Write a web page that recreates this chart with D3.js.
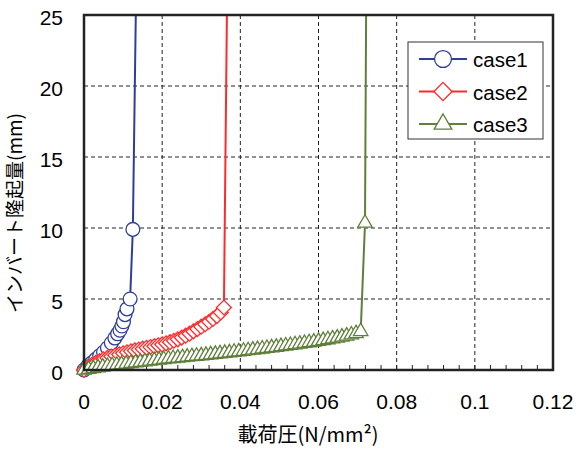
<!DOCTYPE html>
<html>
<head>
<meta charset="utf-8">
<script src="https://cdn.jsdelivr.net/npm/d3@7"></script>
<style>
  body { margin: 0; background: #fff; }
  text { font-family: "Liberation Sans", "Noto Sans CJK JP", sans-serif; fill: #000; }
</style>
</head>
<body>
<svg id="chart" width="577" height="452"></svg>
<script>
// data
var seriesNames = ["case1", "case2", "case3"];
var case1X = [0, 0.001, 0.002, 0.003, 0.004, 0.005, 0.006, 0.007, 0.0079, 0.0086, 0.0092, 0.0097, 0.0101, 0.0105, 0.011, 0.0118, 0.0125, 0.0133];
var case1Y = [0, 0.3, 0.5, 0.75, 1.0, 1.25, 1.55, 1.9, 2.25, 2.55, 2.8, 3.1, 3.4, 3.9, 4.3, 5.0, 9.9, 26];
var case2X = [0, 0.001, 0.002, 0.003, 0.004, 0.005, 0.006, 0.007, 0.008, 0.009, 0.010, 0.011, 0.012, 0.013, 0.014, 0.015, 0.016, 0.017, 0.018, 0.019, 0.020, 0.021, 0.022, 0.023, 0.024, 0.025, 0.026, 0.027, 0.028, 0.029, 0.030, 0.031, 0.032, 0.033, 0.034, 0.035, 0.0358, 0.0366];
var case2Y = [0, 0.2, 0.35, 0.5, 0.62, 0.75, 0.85, 0.95, 1.03, 1.1, 1.18, 1.25, 1.32, 1.38, 1.44, 1.5, 1.56, 1.62, 1.68, 1.74, 1.8, 1.88, 1.96, 2.06, 2.16, 2.28, 2.42, 2.56, 2.72, 2.88, 3.05, 3.22, 3.4, 3.6, 3.8, 4.05, 4.4, 26];
var case3X = [0, 0.0012, 0.0024, 0.0036, 0.0048, 0.006, 0.0072, 0.0084, 0.0096, 0.0108, 0.012, 0.0132, 0.0144, 0.0156, 0.0168, 0.018, 0.0192, 0.0204, 0.0216, 0.0228, 0.024, 0.0252, 0.0264, 0.0276, 0.0288, 0.03, 0.0312, 0.0324, 0.0336, 0.0348, 0.036, 0.0372, 0.0384, 0.0396, 0.0408, 0.042, 0.0432, 0.0444, 0.0456, 0.0468, 0.048, 0.0492, 0.0504, 0.0516, 0.0528, 0.054, 0.0552, 0.0564, 0.0576, 0.0588, 0.06, 0.0612, 0.0624, 0.0636, 0.0648, 0.066, 0.0672, 0.0684, 0.0696, 0.0708, 0.0719, 0.0722];
var case3Y = [0, 0.06, 0.11, 0.16, 0.21, 0.26, 0.31, 0.35, 0.39, 0.43, 0.47, 0.51, 0.55, 0.59, 0.63, 0.67, 0.71, 0.75, 0.79, 0.82, 0.85, 0.88, 0.92, 0.95, 0.98, 1.01, 1.04, 1.08, 1.11, 1.15, 1.18, 1.22, 1.26, 1.29, 1.33, 1.37, 1.41, 1.45, 1.49, 1.53, 1.57, 1.61, 1.66, 1.70, 1.74, 1.79, 1.83, 1.88, 1.93, 1.98, 2.03, 2.08, 2.14, 2.20, 2.26, 2.33, 2.40, 2.48, 2.57, 2.72, 10.35, 26];
var xTicks = [0, 0.02, 0.04, 0.06, 0.08, 0.1, 0.12];
var yTicks = [0, 5, 10, 15, 20, 25];
var xTitle = "載荷圧(N/mm²)";
var yTitle = "インバート隆起量(mm)";

var margin = {top: 15, right: 24, bottom: 82, left: 84};
var W = 577, H = 452;
var width = W - margin.left - margin.right,
    height = H - margin.top - margin.bottom;

var colors = ["#2f3f98", "#ff2a2a", "#5f7f3b"];

// marker shapes: circle, diamond (rotated square), triangle
function markerPath(i, k) {
  k = k || 1;
  if (i === 0) return d3.symbol().type(d3.symbolCircle).size(150 * k)();
  if (i === 1) return d3.symbol().type(d3.symbolSquare).size(110 * k)();
  return d3.symbol().type(d3.symbolTriangle).size(90 * k)();
}
function markerRot(i) { return i === 1 ? " rotate(45)" : ""; }

var series = [
  {name: seriesNames[0], xs: case1X, ys: case1Y},
  {name: seriesNames[1], xs: case2X, ys: case2Y},
  {name: seriesNames[2], xs: case3X, ys: case3Y}
].map(function(s) {
  s.points = s.xs.map(function(x, i) { return {x: x, y: s.ys[i]}; });
  return s;
});

var x = d3.scaleLinear().domain([0, 0.12]).range([0, width]);
var y = d3.scaleLinear().domain([0, 25]).range([height, 0]);

var svg = d3.select("#chart");
var chart = svg.append("g")
    .attr("transform", "translate(" + margin.left + "," + margin.top + ")");

svg.append("defs").append("clipPath").attr("id", "clip")
  .append("rect").attr("x", 0).attr("y", 0).attr("width", width).attr("height", height);

// grid
chart.append("g").selectAll("line")
  .data(xTicks.slice(1, -1)).enter().append("line")
  .attr("x1", function(d) { return x(d); }).attr("x2", function(d) { return x(d); })
  .attr("y1", 0).attr("y2", height)
  .attr("stroke", "#222").attr("stroke-width", 1).attr("stroke-dasharray", "4,3");
chart.append("g").selectAll("line")
  .data(yTicks.slice(1, -1)).enter().append("line")
  .attr("x1", 0).attr("x2", width)
  .attr("y1", function(d) { return y(d); }).attr("y2", function(d) { return y(d); })
  .attr("stroke", "#222").attr("stroke-width", 1).attr("stroke-dasharray", "4,3");

// minor ticks on x axis (inside)
var minor = d3.range(0, 0.1201, 0.004);
chart.append("g").selectAll("line")
  .data(minor).enter().append("line")
  .attr("x1", function(d) { return x(d); }).attr("x2", function(d) { return x(d); })
  .attr("y1", height).attr("y2", height - 5)
  .attr("stroke", "#222").attr("stroke-width", 1);

// each series: line then markers, later series on top
var line = d3.line().x(function(d) { return x(d.x); }).y(function(d) { return y(d.y); });
series.forEach(function(s, i) {
  chart.append("path").datum(s.points)
    .attr("clip-path", "url(#clip)")
    .attr("d", line)
    .attr("fill", "none")
    .attr("stroke", colors[i])
    .attr("stroke-width", 2);

  chart.append("g").selectAll("path")
    .data(s.points.filter(function(d) { return d.y <= 25; }))
    .enter().append("path")
    .attr("d", markerPath(i))
    .attr("transform", function(d) { return "translate(" + x(d.x) + "," + y(d.y) + ")" + markerRot(i); })
    .attr("fill", "#fff")
    .attr("stroke", colors[i])
    .attr("stroke-width", 1.3);
});

// frame
chart.append("rect")
  .attr("x", 0).attr("y", 0).attr("width", width).attr("height", height)
  .attr("fill", "none").attr("stroke", "#222").attr("stroke-width", 2.5);

// tick labels
chart.append("g").selectAll("text")
  .data(xTicks).enter().append("text")
  .attr("x", function(d) { return x(d); })
  .attr("y", height + 39)
  .attr("text-anchor", "middle")
  .style("font-size", "21px")
  .text(function(d) { return d; });
chart.append("g").selectAll("text")
  .data(yTicks).enter().append("text")
  .attr("x", -21)
  .attr("y", function(d) { return y(d) + 10; })
  .attr("text-anchor", "end")
  .style("font-size", "21px")
  .text(function(d) { return d; });

// axis titles
svg.append("text")
  .attr("x", 308)
  .attr("y", 442)
  .attr("text-anchor", "middle")
  .style("font-family", "'Noto Sans CJK JP', sans-serif")
  .style("font-size", "20px")
  .text(xTitle);
svg.append("text")
  .attr("transform", "translate(22,213) rotate(-90)")
  .attr("text-anchor", "middle")
  .style("font-family", "'Noto Sans CJK JP', sans-serif")
  .style("font-size", "19px")
  .text(yTitle);

// legend
var lg = svg.append("g").attr("transform", "translate(408,42)");
lg.append("rect").attr("width", 135).attr("height", 97)
  .attr("fill", "#fff").attr("stroke", "#333").attr("stroke-width", 1);
series.forEach(function(s, i) {
  var row = lg.append("g").attr("transform", "translate(0," + (17 + i * 32.5) + ")");
  row.append("line").attr("x1", 11).attr("x2", 59).attr("y1", 0).attr("y2", 0)
    .attr("stroke", colors[i]).attr("stroke-width", 2);
  row.append("path")
    .attr("d", markerPath(i, 1.5))
    .attr("transform", "translate(35,0)" + markerRot(i))
    .attr("fill", "#fff").attr("stroke", colors[i]).attr("stroke-width", 1.3);
  row.append("text").attr("x", 65).attr("y", 8)
    .style("font-size", "20.5px")
    .text(s.name);
});
</script>
</body>
</html>
